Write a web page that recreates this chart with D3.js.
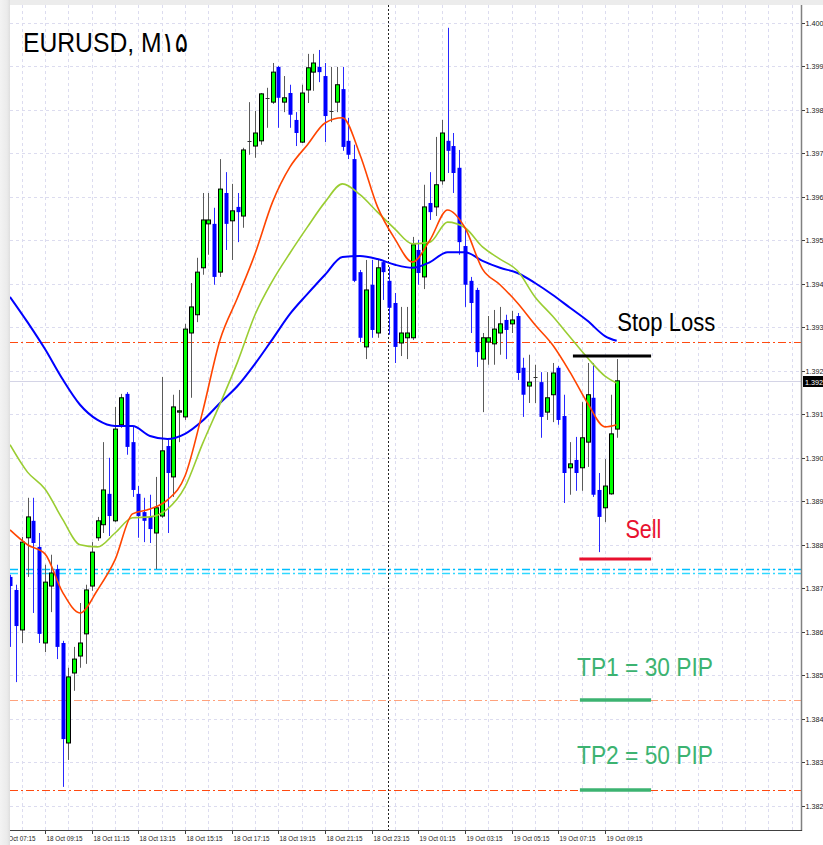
<!DOCTYPE html>
<html><head><meta charset="utf-8">
<script src="https://cdn.jsdelivr.net/npm/d3@7"></script>
<style>html,body{margin:0;padding:0;background:#fff;}svg{display:block;}</style>
</head><body>
<svg id="c" width="823" height="845"></svg>
<script>
// ---------- DATA ----------
const title = "EURUSD, M\u06F1\u06F5";
// 15-minute candles, 18 Oct 07:45 -> 19 Oct 09:45
const opens = [
1.38751,1.38721,1.38629,1.38841,1.38880,1.38820,1.38599,1.38730,1.38769,1.38599,
1.38369,1.38530,1.38569,1.38620,1.38730,1.38841,1.38871,1.38942,1.38880,1.39101,
1.39172,1.39061,1.38942,1.38900,1.38889,1.38852,1.38891,1.39052,1.38981,1.39130,
1.39119,1.39312,1.39354,1.39462,1.39563,1.39563,1.39452,1.39634,1.39570,1.39602,
1.39581,1.39754,1.39742,1.39754,1.39853,1.39843,1.39924,1.39843,1.39864,1.39802,
1.39751,1.39871,1.39912,1.39924,1.39903,1.39823,1.39843,1.39873,1.39754,1.39712,
1.39452,1.39280,1.39423,1.39312,1.39475,1.39432,1.39381,1.39289,1.39301,1.39301,
1.39503,1.39441,1.39611,1.39602,1.39662,1.39754,1.39742,1.39692,1.39512,1.39432,
1.39411,1.39252,1.39291,1.39287,1.39312,1.39342,1.39333,1.39351,1.39232,1.39190,
1.39211,1.39199,1.39130,1.39170,1.39232,1.39121,1.39002,1.39020,1.39002,1.39061,
1.39163,1.38951,1.38910,1.38942,1.39091];
const highs = [
1.38756,1.38733,1.38843,1.38933,1.38933,1.38852,1.38779,1.38802,1.38779,1.38604,
1.38542,1.38590,1.38691,1.38733,1.38831,1.38889,1.39061,1.39025,1.39142,1.39172,
1.39176,1.39096,1.38960,1.38933,1.38940,1.38981,1.39211,1.39066,1.39170,1.39181,
1.39333,1.39427,1.39485,1.39634,1.39634,1.39600,1.39712,1.39682,1.39655,1.39634,
1.39738,1.39843,1.39823,1.39864,1.39876,1.39933,1.39926,1.39903,1.39883,1.39820,
1.39883,1.39954,1.39954,1.39963,1.39933,1.39924,1.39924,1.39924,1.39807,1.39745,
1.39457,1.39480,1.39480,1.39480,1.39480,1.39464,1.39404,1.39372,1.39372,1.39533,
1.39526,1.39653,1.39682,1.39763,1.39802,1.40014,1.39772,1.39733,1.39554,1.39441,
1.39416,1.39312,1.39351,1.39365,1.39372,1.39354,1.39363,1.39358,1.39255,1.39262,
1.39239,1.39222,1.39222,1.39243,1.39236,1.39170,1.39061,1.39073,1.39153,1.39243,
1.39243,1.38990,1.39022,1.39170,1.39252];
const lows = [
1.38590,1.38509,1.38599,1.38751,1.38668,1.38599,1.38578,1.38670,1.38562,1.38268,
1.38330,1.38489,1.38542,1.38551,1.38719,1.38834,1.38852,1.38845,1.38877,1.39094,
1.39032,1.38935,1.38841,1.38831,1.38829,1.38769,1.38887,1.38852,1.38935,1.39061,
1.39112,1.39163,1.39337,1.39446,1.39492,1.39423,1.39441,1.39503,1.39480,1.39521,
1.39554,1.39722,1.39715,1.39745,1.39784,1.39839,1.39784,1.39820,1.39784,1.39742,
1.39749,1.39841,1.39869,1.39889,1.39751,1.39797,1.39820,1.39731,1.39712,1.39429,
1.39291,1.39252,1.39301,1.39301,1.39388,1.39308,1.39243,1.39259,1.39252,1.39296,
1.39423,1.39413,1.39572,1.39581,1.39653,1.39680,1.39634,1.39492,1.39372,1.39312,
1.39234,1.39130,1.39239,1.39239,1.39262,1.39252,1.39312,1.39204,1.39119,1.39151,
1.39151,1.39071,1.39112,1.39107,1.39101,1.38921,1.38940,1.38949,1.38949,1.39004,
1.38935,1.38808,1.38877,1.38940,1.39071];
const closes = [
1.38730,1.38638,1.38831,1.38889,1.38829,1.38620,1.38739,1.38760,1.38590,1.38378,
1.38521,1.38562,1.38599,1.38721,1.38808,1.38880,1.38951,1.38891,1.39091,1.39163,
1.39050,1.38951,1.38891,1.38880,1.38861,1.38910,1.39041,1.38990,1.39142,1.39133,
1.39321,1.39372,1.39452,1.39572,1.39572,1.39441,1.39643,1.39563,1.39593,1.39590,
1.39733,1.39754,1.39772,1.39862,1.39853,1.39912,1.39853,1.39853,1.39814,1.39772,
1.39864,1.39922,1.39933,1.39912,1.39811,1.39823,1.39883,1.39740,1.39722,1.39432,
1.39301,1.39411,1.39319,1.39462,1.39452,1.39370,1.39280,1.39312,1.39312,1.39515,
1.39450,1.39602,1.39590,1.39653,1.39772,1.39731,1.39680,1.39521,1.39423,1.39381,
1.39268,1.39301,1.39301,1.39321,1.39333,1.39319,1.39342,1.39220,1.39170,1.39199,
1.39211,1.39119,1.39163,1.39220,1.39112,1.38990,1.39011,1.38990,1.39071,1.39170,
1.38940,1.38889,1.38960,1.39080,1.39202];

// moving averages, read at these candle indices
const maIndex = [0,3,6,9,12,15,18,21,24,27,30,33,36,39,42,45,48,51,54,57,60,63,66,69,72,75,78,81,84,87,90,93,96,99,102,104];
const maFast = [1.38859,1.38825,1.38804,1.38716,1.38668,1.38721,1.38790,1.38896,1.38907,1.38928,1.38983,1.39130,1.39296,1.39393,1.39494,1.39613,1.39694,1.39745,1.39795,1.39807,1.39722,1.39602,1.39528,1.39475,1.39526,1.39595,1.39554,1.39459,1.39423,1.39381,1.39331,1.39285,1.39222,1.39151,1.39096,1.39101];
const maMid = [1.39055,1.38992,1.38953,1.38884,1.38825,1.38820,1.38852,1.38887,1.38889,1.38907,1.38958,1.39057,1.39149,1.39245,1.39354,1.39432,1.39496,1.39556,1.39613,1.39655,1.39630,1.39590,1.39551,1.39517,1.39521,1.39567,1.39554,1.39510,1.39482,1.39455,1.39395,1.39351,1.39303,1.39255,1.39213,1.39197];
const maSlow = [1.39395,1.39337,1.39275,1.39206,1.39147,1.39112,1.39098,1.39098,1.39075,1.39068,1.39080,1.39110,1.39151,1.39190,1.39241,1.39298,1.39356,1.39402,1.39446,1.39487,1.39489,1.39482,1.39469,1.39462,1.39475,1.39498,1.39498,1.39478,1.39462,1.39450,1.39427,1.39400,1.39370,1.39340,1.39305,1.39294];

const priceTicks = [1.40025,1.39925,1.39825,1.39725,1.39625,1.39525,1.39425,1.39325,1.39225,1.39125,1.39025,1.38925,1.38825,1.38725,1.38625,1.38525,1.38425,1.38325,1.38225];
const priceTickLabels = ["1.400","1.399","1.398","1.397","1.396","1.395","1.394","1.393","1.392","1.391","1.390","1.389","1.388","1.387","1.386","1.385","1.384","1.383","1.382"];
const timeTickIndex = [-2,6,14,22,30,38,46,54,62,70,78,86,94,102];
const timeTickLabels = ["18 Oct 07:15","18 Oct 09:15","18 Oct 11:15","18 Oct 13:15","18 Oct 15:15","18 Oct 17:15","18 Oct 19:15","18 Oct 21:15","18 Oct 23:15","19 Oct 01:15","19 Oct 03:15","19 Oct 05:15","19 Oct 07:15","19 Oct 09:15"];
const separatorIndex = 65; // 19 Oct 00:00

const currentPrice = 1.39202;
const currentLabel = "1.392";
// horizontal level lines
const levelPrices = [1.39291, 1.38468, 1.38261, 1.38769, 1.38761];
const levelColors = ["#ff4a10", "#ffa27c", "#ff4a10", "#00bfff", "#30d8ff"];
// trade annotations
const noteTexts = ["Stop Loss", "Sell", "TP1 = 30 PIP", "TP2 = 50 PIP"];
const noteColors = ["#000000", "#e8102e", "#3cb371", "#3cb371"];
const noteIndex = [104.1, 105.5, 97.2, 97.2];
const notePrice = [1.39317, 1.38841, 1.38523, 1.38321];
const markStart = [96.5, 97.6, 97.7, 97.7];
const markEnd = [109.9, 109.9, 109.9, 109.9];
const markPrice = [1.39259, 1.38792, 1.38468, 1.38261];

// ---------- LAYOUT ----------
const svg = d3.select("#c");
const W = 823, H = 845;
const pL = 10, pT = 5, pR = 801, pB = 830;
const x = d3.scaleLinear().domain([0, 104]).range([10, 616.67]);
const y = d3.scaleLinear().domain([1.40025, 1.38225]).range([23, 805.6]);
const FONT = "Liberation Sans, Arial, sans-serif";

const defs = svg.append("defs");
const gl = defs.append("linearGradient").attr("id","lg").attr("x1","0").attr("x2","1");
gl.append("stop").attr("offset","0").attr("stop-color","#f3f3f3");
gl.append("stop").attr("offset","0.7").attr("stop-color","#ebebeb");
gl.append("stop").attr("offset","1").attr("stop-color","#dedede");
svg.append("rect").attr("width",W).attr("height",H).attr("fill","#fff");

defs.append("clipPath").attr("id","plot").append("rect")
  .attr("x",pL).attr("y",pT).attr("width",pR-pL).attr("height",pB-pT);
const g = svg.append("g").attr("clip-path","url(#plot)");

// grid
const gridColor = "#dcdcef";
g.selectAll(".hg").data(priceTicks).join("line")
  .attr("x1",pL).attr("x2",pR)
  .attr("y1",d=>Math.round(y(d))+0.5).attr("y2",d=>Math.round(y(d))+0.5)
  .attr("stroke",gridColor).attr("stroke-dasharray","3,3");
const vIdx = d3.range(2, 140, 4);
g.selectAll(".vg").data(vIdx).join("line")
  .attr("x1",d=>Math.round(x(d))+0.5).attr("x2",d=>Math.round(x(d))+0.5)
  .attr("y1",pT).attr("y2",pB)
  .attr("stroke",gridColor).attr("stroke-dasharray","3,3");

// current price line
g.append("line").attr("x1",pL).attr("x2",pR)
  .attr("y1",Math.round(y(currentPrice))+0.5).attr("y2",Math.round(y(currentPrice))+0.5)
  .attr("stroke","#d4d4e6").attr("stroke-width",1);

// level lines (dash-dot)
g.selectAll(".lvl").data(levelPrices).join("line")
  .attr("x1",pL).attr("x2",pR)
  .attr("y1",d=>Math.round(y(d))+0.5).attr("y2",d=>Math.round(y(d))+0.5)
  .attr("stroke",(d,i)=>levelColors[i]).attr("stroke-width",(d,i)=>i>=3?1.3:1)
  .attr("stroke-dasharray","8,3,2,3");

// period separator
g.append("line").attr("x1",Math.round(x(separatorIndex))-0.5).attr("x2",Math.round(x(separatorIndex))-0.5)
  .attr("y1",pT).attr("y2",pB).attr("stroke","#222").attr("stroke-dasharray","2,2");

// candles
const idx = d3.range(opens.length);
const cx = i => Math.round(x(i)) + 0.5;
const cg = g.append("g");
idx.forEach(i => {
  const o = opens[i], c = closes[i], h = highs[i], l = lows[i];
  const bull = c >= o;
  const wickCol = bull ? "#5a5a5a" : "#2828ff";
  cg.append("line").attr("x1",cx(i)).attr("x2",cx(i))
    .attr("y1",y(h)).attr("y2",y(l)).attr("stroke",wickCol).attr("stroke-width",1);
  const yt = y(Math.max(o,c)), yb = y(Math.min(o,c));
  if (Math.abs(yb - yt) < 1) {
    cg.append("line").attr("x1",cx(i)-2).attr("x2",cx(i)+2)
      .attr("y1",Math.round(yt)+0.5).attr("y2",Math.round(yt)+0.5).attr("stroke","#303030");
  } else if (bull) {
    cg.append("rect").attr("x",cx(i)-2).attr("y",yt).attr("width",4).attr("height",yb-yt)
      .attr("fill","#00ff00").attr("stroke","#000").attr("stroke-width",1);
  } else {
    cg.append("rect").attr("x",cx(i)-2).attr("y",yt).attr("width",4).attr("height",yb-yt)
      .attr("fill","#0000ff");
  }
});

// moving averages
const maLine = arr => d3.line().x((d,k)=>x(maIndex[k])).y(d=>y(d)).curve(d3.curveMonotoneX)(arr);
g.append("path").attr("d",maLine(maSlow)).attr("fill","none").attr("stroke","#0000ff").attr("stroke-width",2);
g.append("path").attr("d",maLine(maMid)).attr("fill","none").attr("stroke","#9acd32").attr("stroke-width",1.6);
g.append("path").attr("d",maLine(maFast)).attr("fill","none").attr("stroke","#ff4500").attr("stroke-width",1.6);

// annotation marks
const markW = [3, 3, 3.5, 3.5];
markPrice.forEach((p,i) => {
  g.append("line").attr("x1",x(markStart[i])).attr("x2",x(markEnd[i]))
    .attr("y1",y(p)).attr("y2",y(p)).attr("stroke",noteColors[i]).attr("stroke-width",markW[i]);
});
const noteLen = [98, 36, 136, 136];
noteTexts.forEach((t,i) => {
  svg.append("text").attr("x",x(noteIndex[i])).attr("y",y(notePrice[i]))
    .attr("font-family",FONT).attr("font-size",26)
    .attr("textLength",noteLen[i]).attr("lengthAdjust","spacingAndGlyphs")
    .attr("fill",noteColors[i]).text(t);
});

// title
svg.append("text").attr("x",23).attr("y",52).attr("font-family","Liberation Sans, Arial, DejaVu Sans, sans-serif")
  .attr("font-size",28).attr("textLength",165).attr("lengthAdjust","spacingAndGlyphs")
  .attr("fill","#000").text(title);

// axes
svg.append("line").attr("x1",pR+0.5).attr("x2",pR+0.5).attr("y1",pT).attr("y2",pB+1)
  .attr("stroke","#808080").attr("stroke-width",1.5);
svg.append("line").attr("x1",pL).attr("x2",pR+1).attr("y1",pB+0.5).attr("y2",pB+0.5)
  .attr("stroke","#404040").attr("stroke-width",1.2);

const yAxis = svg.append("g");
priceTicks.forEach((p,k) => {
  const yy = Math.round(y(p)) + 0.5;
  yAxis.append("line").attr("x1",pR+1).attr("x2",pR+4).attr("y1",yy).attr("y2",yy).attr("stroke","#404040");
  yAxis.append("text").attr("x",pR+4.5).attr("y",yy+2.5)
    .attr("font-family",FONT).attr("font-size",7.2).attr("fill","#202020")
    .text(priceTickLabels[k]);
});
const cyy = Math.round(y(currentPrice));
svg.append("rect").attr("x",pR+2).attr("y",cyy-5).attr("width",W-pR-2).attr("height",11).attr("fill","#000");
svg.append("text").attr("x",pR+4).attr("y",cyy+3.5).attr("font-family",FONT)
  .attr("font-size",7.2).attr("fill","#fff").text(currentLabel);

const xAxis = svg.append("g");
timeTickIndex.forEach((ti,k) => {
  const xx = Math.round(x(ti)) + 0.5;
  xAxis.append("line").attr("x1",xx).attr("x2",xx).attr("y1",pB).attr("y2",pB+4).attr("stroke","#404040");
  xAxis.append("text").attr("x",xx+1).attr("y",pB+11)
    .attr("font-family",FONT).attr("font-size",7.4).attr("textLength",36).attr("lengthAdjust","spacingAndGlyphs")
    .attr("fill","#202020").text(timeTickLabels[k]);
});

// window frame strips (top and left), drawn over the edges like the terminal frame
svg.append("rect").attr("x",0).attr("y",0).attr("width",W).attr("height",pT).attr("fill","#ececec");
svg.append("rect").attr("x",0).attr("y",0).attr("width",pL).attr("height",H).attr("fill","url(#lg)");
</script>
</body></html>
